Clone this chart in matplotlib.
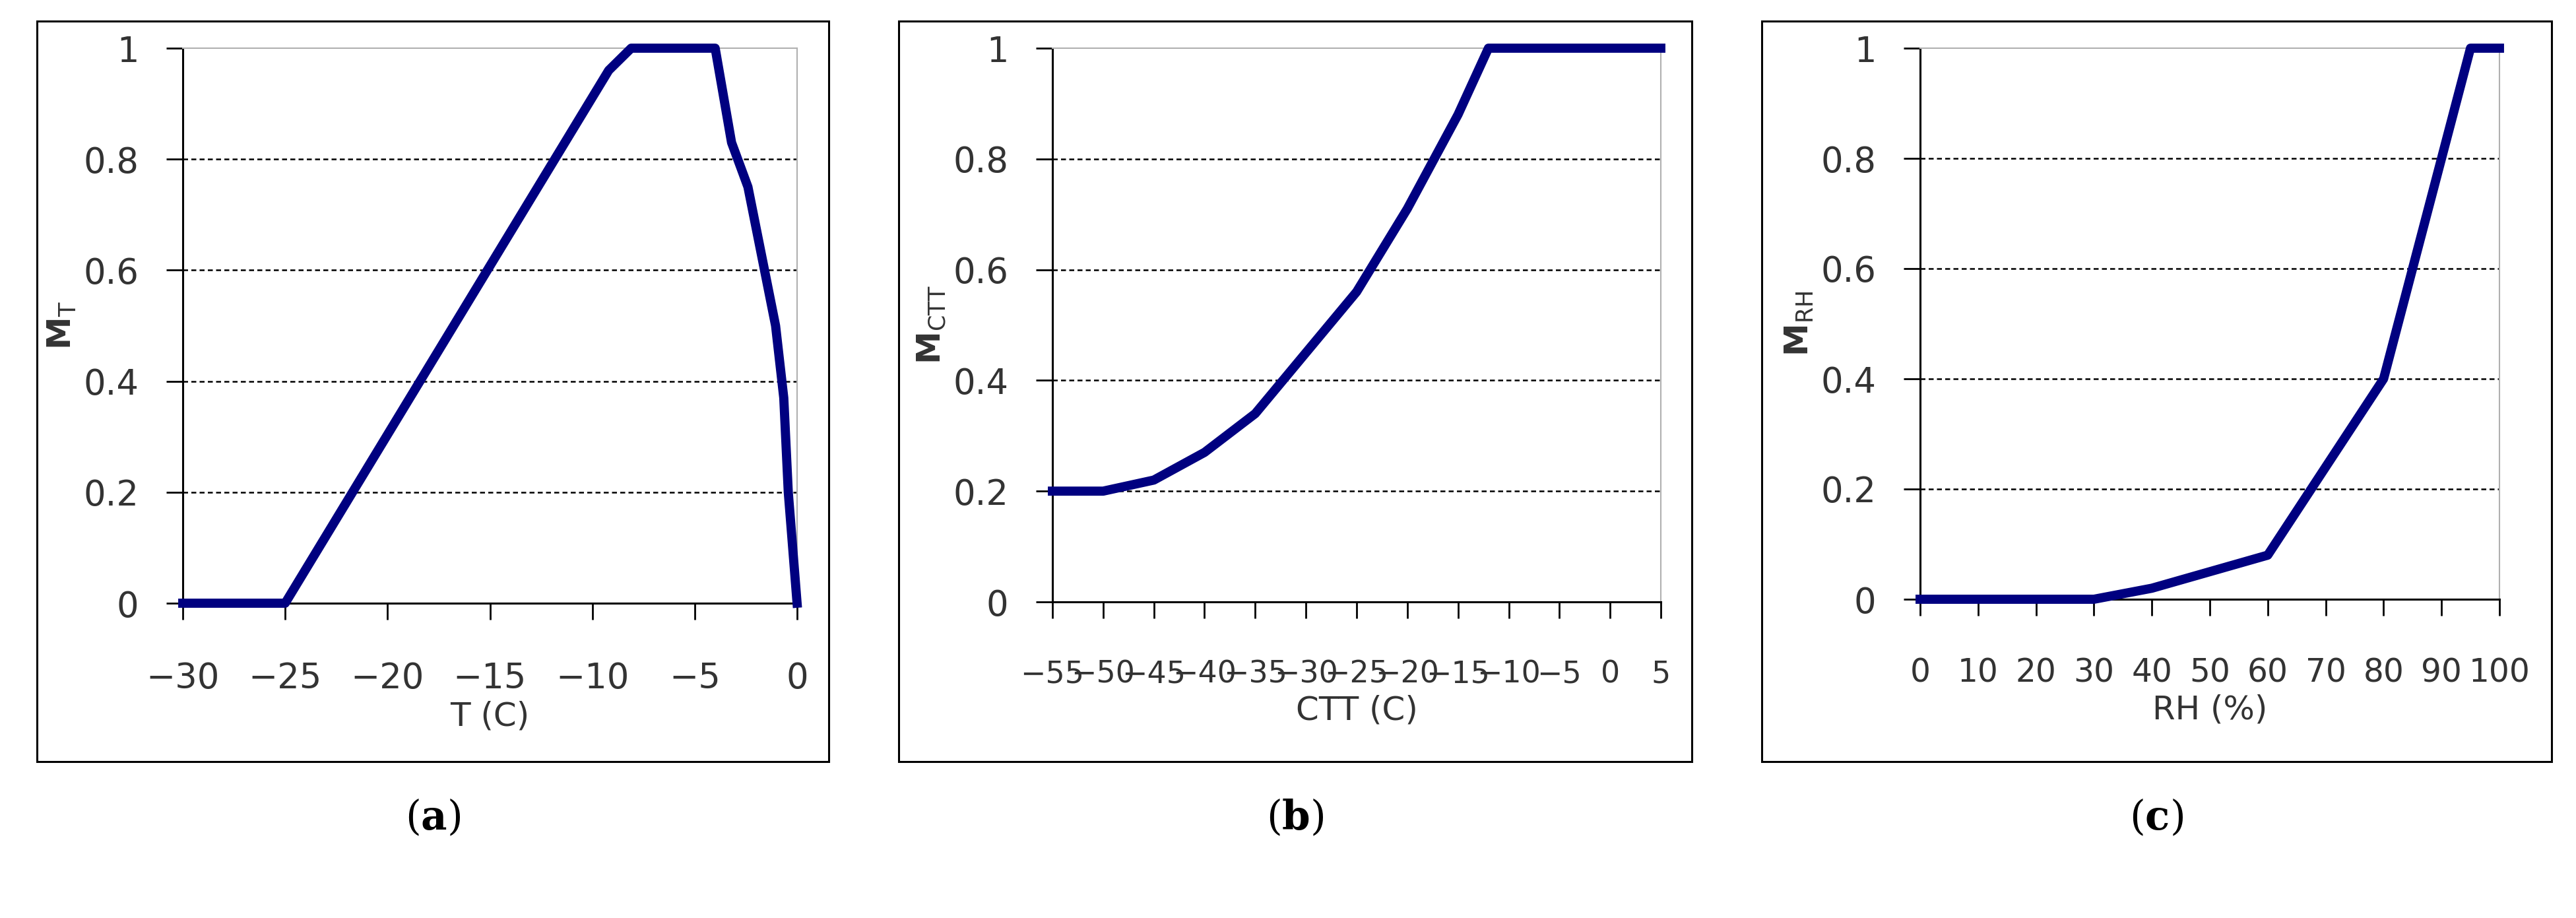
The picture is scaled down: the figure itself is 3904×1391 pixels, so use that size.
import matplotlib
matplotlib.use("Agg")
import matplotlib.pyplot as plt
from matplotlib.patches import Rectangle

W, H = 3904, 1391

a_x = [-30, -25, -9.2, -8.1, -4.0, -3.2, -2.4, -1.05, -0.65, -0.43, 0]
a_y = [0, 0, 0.96, 1, 1, 0.83, 0.75, 0.5, 0.37, 0.2, 0]
b_x = [-55, -50, -45, -40, -35, -30, -25, -20, -15, -12, 5]
b_y = [0.2, 0.2, 0.22, 0.27, 0.34, 0.45, 0.56, 0.71, 0.88, 1, 1]
c_x = [0, 30, 40, 50, 60, 70, 75, 80, 85, 90, 95, 100]
c_y = [0, 0, 0.02, 0.05, 0.08, 0.24, 0.32, 0.4, 0.6, 0.8, 1, 1]
y_ticks = [0, 0.2, 0.4, 0.6, 0.8, 1]
y_labels = ["0", "0.2", "0.4", "0.6", "0.8", "1"]

panels = [
    dict(x=a_x, y=a_y, xlim=(-30, 0), xt=list(range(-30, 1, 5)), xl="T (C)", yl=r"$\mathbf{M}_{\mathrm{T}}$",
         box=(56, 32, 1256, 1154), plot=(277, 73, 1208, 914), tag="a", fs=38),
    dict(x=b_x, y=b_y, xlim=(-55, 5), xt=list(range(-55, 6, 5)), xl="CTT (C)", yl=r"$\mathbf{M}_{\mathrm{CTT}}$",
         box=(1362, 32, 2564, 1154), plot=(1595, 73, 2517, 912), tag="b", fs=33),
    dict(x=c_x, y=c_y, xlim=(0, 100), xt=list(range(0, 101, 10)), xl="RH (%)", yl=r"$\mathbf{M}_{\mathrm{RH}}$",
         box=(2670, 32, 3867, 1154), plot=(2910, 73, 3788, 908), tag="c", fs=35),
]

plt.rcParams["mathtext.fontset"] = "dejavusans"
fig = plt.figure(figsize=(W / 100, H / 100), dpi=100)
fig.patch.set_facecolor("white")
tc = "#333333"
for p in panels:
    bx0, by0, bx1, by1 = p["box"]
    fig.patches.append(Rectangle((bx0 / W, 1 - by1 / H), (bx1 - bx0) / W, (by1 - by0) / H,
                                 transform=fig.transFigure, fill=False, ec="black", lw=2.2))
    px0, py0, px1, py1 = p["plot"]
    ax = fig.add_axes([px0 / W, 1 - py1 / H, (px1 - px0) / W, (py1 - py0) / H])
    ax.plot(p["x"], p["y"], color="#000080", lw=10, solid_joinstyle="round", clip_on=False, zorder=3)
    ax.set_xlim(*p["xlim"])
    ax.set_ylim(0, 1)
    ax.set_xticks(p["xt"])
    ax.set_xticklabels([str(v).replace("-", "\u2212") for v in p["xt"]], fontsize=p["fs"], color=tc)
    ax.set_yticks(y_ticks)
    ax.set_yticklabels(y_labels, fontsize=38, color=tc)
    ax.tick_params(axis="x", length=18, width=2, pad=45, direction="out")
    ax.tick_params(axis="y", length=18, width=2, pad=30, direction="out")
    for g in [0.2, 0.4, 0.6, 0.8]:
        ax.axhline(g, color="black", lw=1.8, ls=(0, (3, 2)), zorder=1)
    for s in ["left", "bottom"]:
        ax.spines[s].set_linewidth(2.2)
    for s in ["top", "right"]:
        ax.spines[s].set_color("#b0b0b0")
        ax.spines[s].set_linewidth(1.5)
    ax.set_xlabel(p["xl"], fontsize=36, color=tc, labelpad=6)
    ax.set_ylabel(p["yl"], fontsize=36, color=tc, labelpad=6)
    cx = (bx0 + bx1) / 2 / W
    fig.text(cx, 1 - 1240 / H, "(" + r"$\mathbf{" + p["tag"] + "}$" + ")", fontsize=44,
             family="DejaVu Serif", math_fontfamily="dejavuserif", ha="center", va="center")

fig.savefig("out.png", dpi=100)
